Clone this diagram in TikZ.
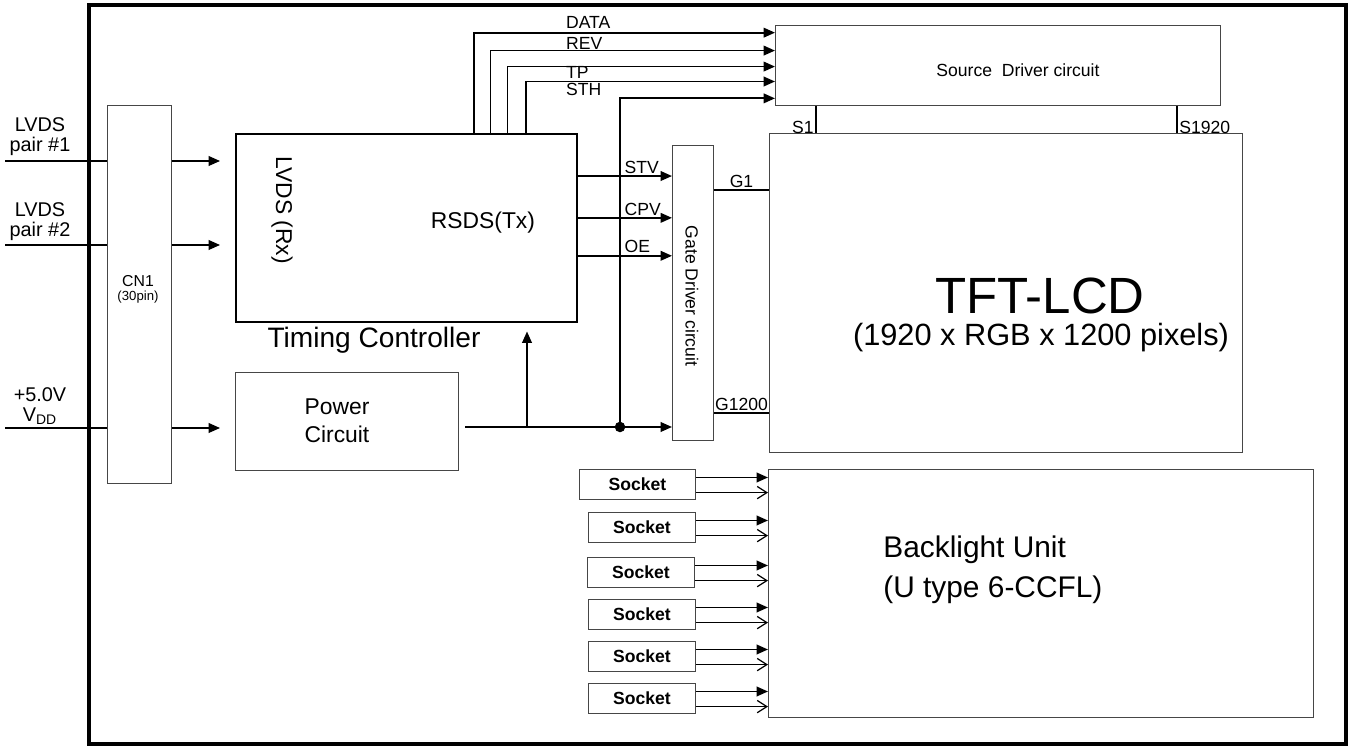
\documentclass[tikz,border=0pt]{standalone}
\usepackage{fontspec}
\setmainfont{Liberation Sans}
\usetikzlibrary{arrows.meta}
\definecolor{boxgray}{RGB}{70, 70, 70}

\begin{document}
\begin{tikzpicture}[x=0.02cm, y=-0.02cm,
	thinbox/.style={draw=boxgray, line width=0.6pt, inner sep=0pt, anchor=north west},
	sig/.style={line width=1pt},
	arr/.style={sig, -{Triangle[length=6.5pt, width=5.5pt]}},
	barb/.style={line width=0.7pt, -{Straight Barb[length=5.5pt, width=7pt]}},
	lbl/.style={font=\fontsize{10}{11}\selectfont, inner sep=1pt}]
			
			\useasboundingbox (0,0) rectangle (1353,749);
			
			% OUTER FRAME
			\draw[line width=2.3pt] (89,5) rectangle (1346,744);
			
			% BLOCKS
			\node[thinbox, minimum width=1.28cm, minimum height=7.56cm] (cn1) at (107,105) {};
			\node[thinbox, draw=black, line width=1pt, minimum width=6.82cm, minimum height=3.76cm] (tcon) at (235,133) {};
			\node[thinbox, minimum width=4.46cm, minimum height=1.96cm] (power) at (235,372) {};
			\node[thinbox, minimum width=0.82cm, minimum height=5.9cm] (gate) at (672,145) {};
			\node[thinbox, minimum width=8.9cm, minimum height=1.6cm] (source) at (775,25) {};
			\node[thinbox, minimum width=9.46cm, minimum height=6.38cm] (tft) at (769,133) {};
			\node[thinbox, minimum width=10.9cm, minimum height=4.96cm] (blu) at (768,469) {};
			
			% TEXTS
			\node[font=\fontsize{11.3}{11.5}\selectfont, align=center] (lv1txt) at (40,137) {LVDS\\pair \#1};
			\node[font=\fontsize{11.3}{11.5}\selectfont, align=center] (lv2txt) at (40,222) {LVDS\\pair \#2};
			\node[font=\fontsize{11.3}{11.5}\selectfont, align=center] (vddtxt) at (40,406) {+5.0V\\V\textsubscript{DD}};
			\node[font=\fontsize{9}{10}\selectfont, inner sep=1pt] (cn1txt) at (138,281) {CN1};
			\node[font=\fontsize{7.5}{8}\selectfont, inner sep=1pt] (cn1pin) at (138,297) {(30pin)};
			\node[font=\fontsize{13}{15}\selectfont, rotate=-90] (rxtxt) at (282,210) {LVDS (Rx)};
			\node[font=\fontsize{13}{15}\selectfont] (txtxt) at (483,223) {RSDS(Tx)};
			\node[font=\fontsize{16}{18}\selectfont] (tctxt) at (374,340) {Timing Controller};
			\node[font=\fontsize{13}{16}\selectfont, align=center] (pwtxt) at (337,421) {Power\\Circuit};
			\node[font=\fontsize{10}{12}\selectfont] (srctxt) at (1018,70) {Source\ \ Driver circuit};
			\node[font=\fontsize{10}{12}\selectfont, rotate=-90] (gatetxt) at (692,296) {Gate Driver circuit};
			\node[font=\fontsize{29}{31}\selectfont, inner sep=0pt] (tfttxt) at (1040,296) {TFT-LCD};
			\node[font=\fontsize{17.5}{20}\selectfont, inner sep=0pt] (pixtxt) at (1041,338) {(1920 x RGB x 1200 pixels)};
			\node[font=\fontsize{17}{23}\selectfont, align=left, anchor=west, inner sep=0pt] (blutxt) at (883,570) {Backlight Unit\\(U type 6-CCFL)};
			
			% INPUTS
			\coordinate (lv1) at (5,161);
			\coordinate (lv2) at (5,245);
			\coordinate (vdd) at (5,428);
			\foreach \c in {lv1,lv2,vdd}
				\draw[line width=0.9pt] (\c) -- (\c -| cn1.west);
			\draw[arr, shorten >=8.5pt] (lv1 -| cn1.east) -- (lv1 -| tcon.west);
			\draw[arr, shorten >=8.5pt] (lv2 -| cn1.east) -- (lv2 -| tcon.west);
			\draw[arr, shorten >=8.5pt] (vdd -| cn1.east) -- (vdd -| power.west);
			
			% SOURCE DRIVER SIGNALS
			\foreach \dx/\dy in {38.3pt/18.7pt, 47.9pt/8.5pt, 57.6pt/-0.6pt, 68.3pt/-9.1pt}
				\draw[arr] ([xshift=\dx]tcon.north) |- ([yshift=\dy]source.west);
			\node[lbl, anchor=west] (datal) at (564,22) {DATA};
			\node[lbl, anchor=west] (revl) at (564,43) {REV};
			\node[lbl, anchor=west] (tpl) at (564,72) {TP};
			\node[lbl, anchor=west] (sthl) at (564,89) {STH};
			
			% POWER
			\coordinate (pout) at (465,427);
			\coordinate (tap) at (527,427);
			\coordinate (jn) at (620,427);
			\draw[arr] (pout) -- (pout -| gate.west);
			\draw[arr, shorten >=5pt] (tap) -- (tap |- tcon.south);
			\draw[arr] (jn) |- ([yshift=-18.7pt]source.west);
			\fill (jn) circle[radius=3pt];
			
			% GATE DRIVER SIGNALS
			\foreach \dy/\nm in {29.5pt/STV, 5.7pt/CPV, -15.9pt/OE} {
				\path ([yshift=\dy]tcon.east) coordinate (g\nm);
				\draw[arr] (g\nm) -- (g\nm -| gate.west) node[lbl, pos=0.47, anchor=south west] {\nm};
			}
			
			% GATE / SOURCE LINES
			\path ([yshift=58.7pt]gate.east) coordinate (g1) ([yshift=-68.3pt]gate.east) coordinate (g1200);
			\draw[line width=0.8pt] (g1) -- (g1 -| tft.west) node[lbl, midway, above] {G1};
			\draw[line width=0.8pt] (g1200) -- (g1200 -| tft.west) node[lbl, midway, above] {G1200};
			\path ([xshift=-103.5pt]source.south) coordinate (s1) ([xshift=101.8pt]source.south) coordinate (s1920);
			\draw[line width=0.8pt] (s1) -- (s1 |- tft.north) node[lbl, pos=0.78, left] {S1};
			\draw[line width=0.8pt] (s1920) -- (s1920 |- tft.north) node[lbl, pos=0.78, right] {S1920};
			
			% SOCKETS
			\foreach \n/\x/\y/\w in {1/579/469/2.32cm, 2/588/512/2.14cm, 3/587/557/2.14cm, 4/588/599/2.14cm, 5/588/641/2.14cm, 6/588/683/2.14cm} {
				\node[thinbox, minimum width=\w, minimum height=0.6cm, font=\bfseries\fontsize{10}{12}\selectfont] (sk\n) at (\x,\y) {Socket};
				\path ([yshift=4pt]sk\n.east) coordinate (ka\n) ([yshift=-4.6pt]sk\n.east) coordinate (kb\n);
				\draw[arr] (ka\n) -- (ka\n -| blu.west);
				\draw[barb] (kb\n) -- (kb\n -| blu.west);
			}
			
		\end{tikzpicture}
\end{document}
